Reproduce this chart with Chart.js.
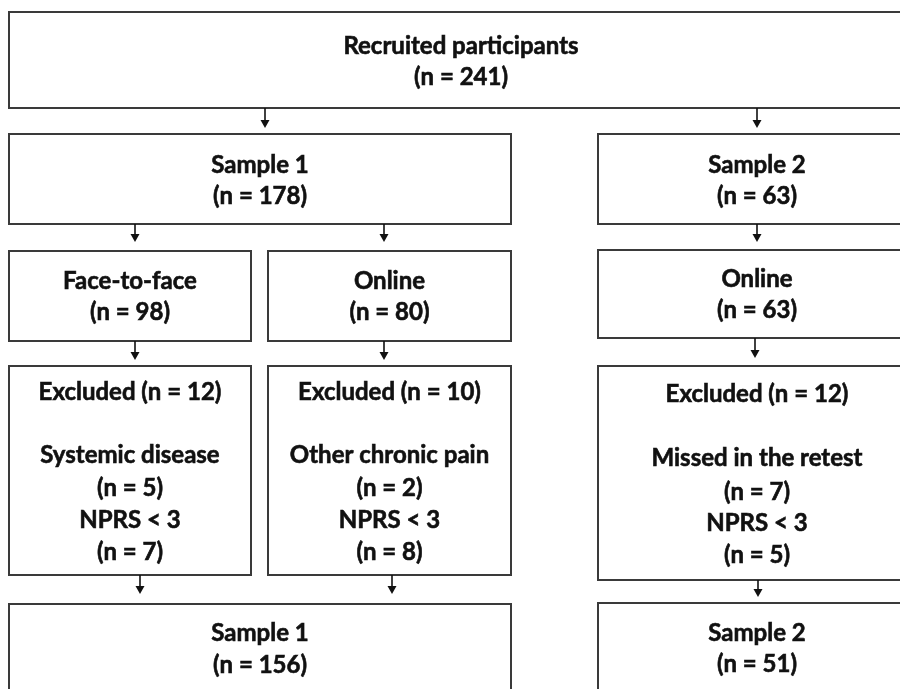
<!DOCTYPE html>
<html>
<head>
<meta charset="utf-8">
<script src="https://cdn.jsdelivr.net/npm/chart.js@4"></script>
<style>
  html, body { margin: 0; padding: 0; background: #fff; }
  canvas { display: block; }
</style>
</head>
<body>
<canvas id="flowChart" width="900" height="689"></canvas>
<script>
  // counts
  const stageLabels = ["Recruited participants", "Sample 1", "Sample 2", "Face-to-face", "Online", "Online", "Sample 1", "Sample 2"];
  const stageCounts = [241, 178, 63, 98, 80, 63, 156, 51];
  const excludedTotals = [12, 10, 12];
  const exclusionReasons = [
    ["Systemic disease", "NPRS < 3"],
    ["Other chronic pain", "NPRS < 3"],
    ["Missed in the retest", "NPRS < 3"],
  ];
  const exclusionCounts = [[5, 7], [2, 8], [7, 5]];

  // layout in axis units (x 0..900, y 0..689 top-down)
  const stageBoxes = [
    { x0: 9, x1: 913, y0: 12, y1: 108 },
    { x0: 9, x1: 511, y0: 134, y1: 224 },
    { x0: 598, x1: 916, y0: 134, y1: 224 },
    { x0: 9, x1: 251, y0: 251, y1: 341 },
    { x0: 268, x1: 511, y0: 251, y1: 341 },
    { x0: 598, x1: 916, y0: 250, y1: 338 },
    { x0: 9, x1: 511, y0: 604, y1: 720 },
    { x0: 598, x1: 916, y0: 603, y1: 720 },
  ];
  const excludedBoxes = [
    { x0: 9, x1: 251, y0: 366, y1: 575 },
    { x0: 268, x1: 511, y0: 366, y1: 575 },
    { x0: 598, x1: 916, y0: 366, y1: 580 },
  ];
  const stageTextY = [[46, 77], [165, 196], [165, 196], [281, 312], [281, 312], [279, 310], [633, 665], [633, 664]];
  const excludedTextY = [[392, 455, 488, 520, 552], [392, 455, 488, 520, 552], [394, 458, 492, 523, 555]];
  const arrows = [
    { x: 265, y0: 108, y1: 128 },
    { x: 757, y0: 108, y1: 128 },
    { x: 135, y0: 224, y1: 242 },
    { x: 384, y0: 224, y1: 242 },
    { x: 757, y0: 224, y1: 242 },
    { x: 135, y0: 341, y1: 360 },
    { x: 384, y0: 341, y1: 360 },
    { x: 755, y0: 338, y1: 358 },
    { x: 140, y0: 575, y1: 594 },
    { x: 392, y0: 575, y1: 594 },
    { x: 758, y0: 580, y1: 597 },
  ];

  const font = "bold 24px Lato, 'Open Sans', sans-serif";

  const flowPlugin = {
    id: "flow",
    afterDatasetsDraw(chart) {
      const ctx = chart.ctx;
      const xs = chart.scales.x;
      const ys = chart.scales.y;
      const px = (v) => xs.getPixelForValue(v);
      const py = (v) => ys.getPixelForValue(v);

      ctx.save();
      ctx.strokeStyle = "#3a3a3a";
      ctx.lineWidth = 2;
      const drawBox = (b) => {
        ctx.strokeRect(px(b.x0), py(b.y0), px(b.x1) - px(b.x0), py(b.y1) - py(b.y0));
      };
      stageBoxes.forEach(drawBox);
      excludedBoxes.forEach(drawBox);

      // arrows
      ctx.strokeStyle = "#111";
      ctx.fillStyle = "#111";
      ctx.lineWidth = 1.6;
      arrows.forEach((a) => {
        const x = px(a.x);
        ctx.beginPath();
        ctx.moveTo(x, py(a.y0));
        ctx.lineTo(x, py(a.y1) - 6);
        ctx.stroke();
        ctx.beginPath();
        ctx.moveTo(x - 4.5, py(a.y1) - 8);
        ctx.lineTo(x + 4.5, py(a.y1) - 8);
        ctx.lineTo(x, py(a.y1));
        ctx.closePath();
        ctx.fill();
      });

      // texts (thin stroke to get closer to the heavier original weight)
      ctx.fillStyle = "#111";
      ctx.strokeStyle = "#111";
      ctx.lineWidth = 0.6;
      ctx.font = font;
      ctx.textAlign = "center";
      ctx.textBaseline = "middle";
      const put = (txt, x, y) => {
        ctx.fillText(txt, x, y);
        ctx.strokeText(txt, x, y);
      };
      stageLabels.forEach((label, i) => {
        const b = stageBoxes[i];
        const cx = px((b.x0 + b.x1) / 2);
        put(label, cx, py(stageTextY[i][0]));
        put("(n = " + stageCounts[i] + ")", cx, py(stageTextY[i][1]));
      });
      excludedTotals.forEach((total, i) => {
        const b = excludedBoxes[i];
        const cx = px((b.x0 + b.x1) / 2);
        const ty = excludedTextY[i];
        put("Excluded (n = " + total + ")", cx, py(ty[0]));
        put(exclusionReasons[i][0], cx, py(ty[1]));
        put("(n = " + exclusionCounts[i][0] + ")", cx, py(ty[2]));
        put(exclusionReasons[i][1], cx, py(ty[3]));
        put("(n = " + exclusionCounts[i][1] + ")", cx, py(ty[4]));
      });
      ctx.restore();
    },
  };

  new Chart(document.getElementById("flowChart"), {
    type: "scatter",
    data: { datasets: [{ data: [], pointRadius: 0 }] },
    options: {
      responsive: false,
      animation: false,
      events: [],
      layout: { padding: 0 },
      plugins: { legend: { display: false }, tooltip: { enabled: false } },
      scales: {
        x: { type: "linear", min: 0, max: 900, display: false },
        y: { type: "linear", min: 0, max: 689, reverse: true, display: false },
      },
    },
    plugins: [flowPlugin],
  });
</script>
</body>
</html>
